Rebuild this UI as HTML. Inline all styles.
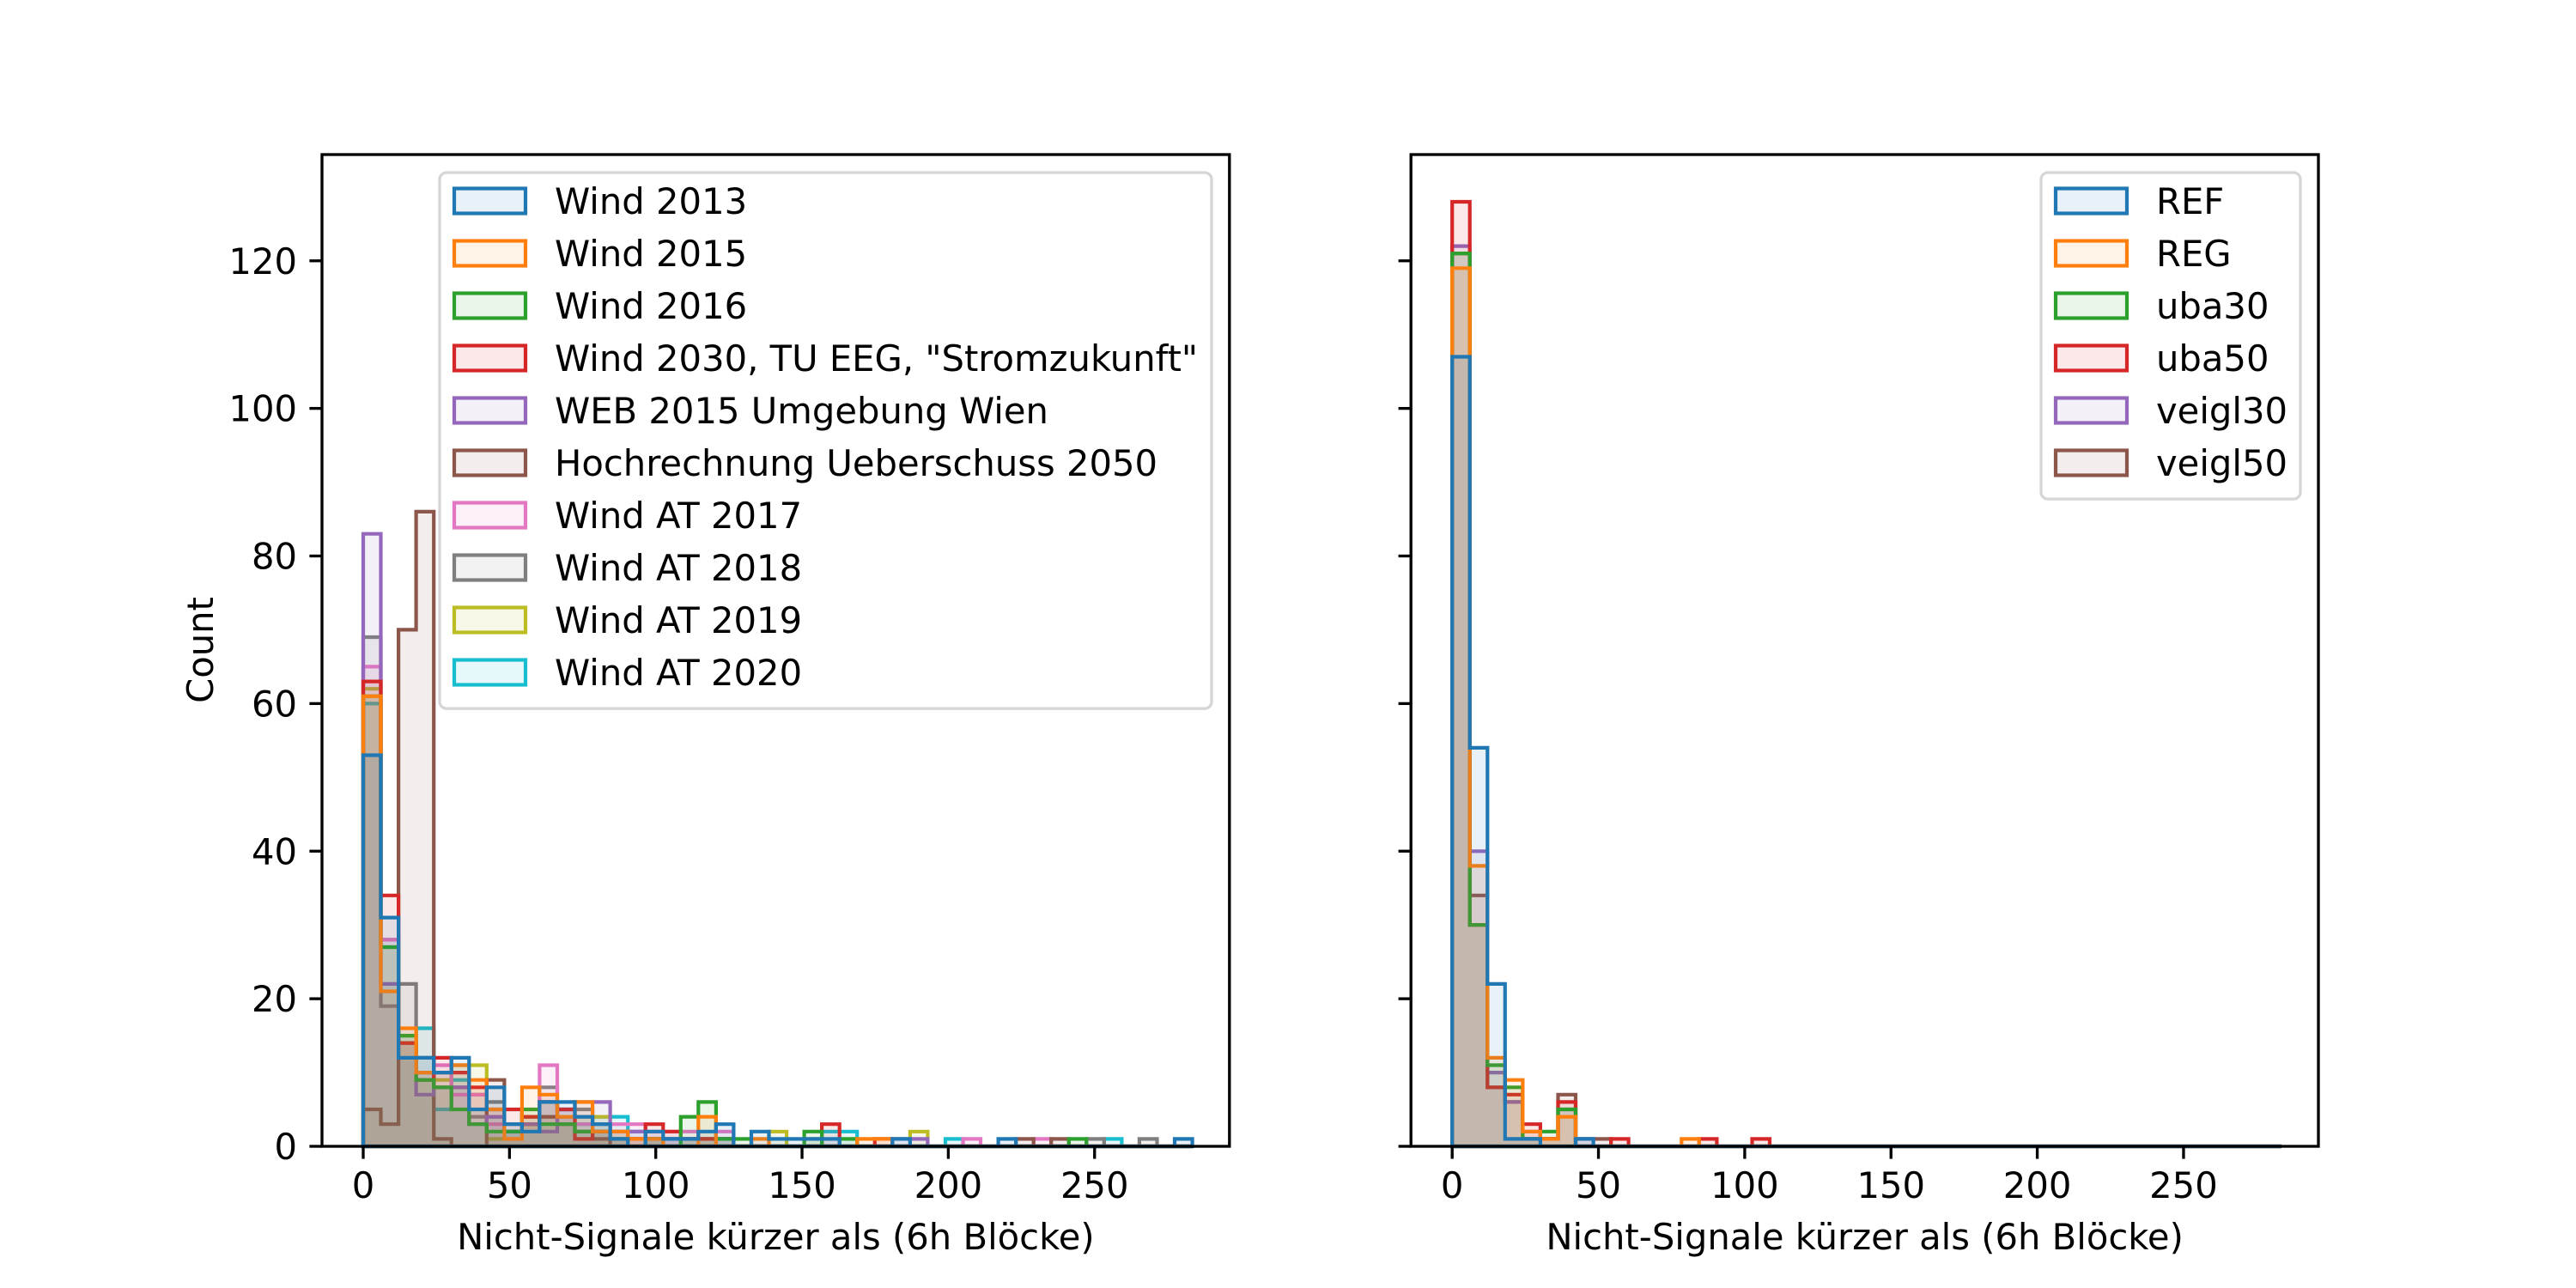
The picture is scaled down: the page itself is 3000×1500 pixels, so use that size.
<!DOCTYPE html>
<html><head><meta charset="utf-8"><style>
html,body{margin:0;padding:0;background:#fff;}
svg{display:block;font-family:"DejaVu Sans","Liberation Sans",sans-serif;}
</style></head><body>
<svg id="fig" width="3000" height="1500" viewBox="0 0 3000 1500" xmlns="http://www.w3.org/2000/svg"></svg>
<script>
// ---- data ----
const binWidth = 6.03;
const xTicks = [0, 50, 100, 150, 200, 250];
const yTicks = [0, 20, 40, 60, 80, 100, 120];
const leftLabels = ["Wind 2013","Wind 2015","Wind 2016","Wind 2030, TU EEG, \"Stromzukunft\"","WEB 2015 Umgebung Wien","Hochrechnung Ueberschuss 2050","Wind AT 2017","Wind AT 2018","Wind AT 2019","Wind AT 2020"];
const rightLabels = ["REF","REG","uba30","uba50","veigl30","veigl50"];
const colors = ["#1f77b4","#ff7f0e","#2ca02c","#d62728","#9467bd","#8c564b","#e377c2","#7f7f7f","#bcbd22","#17becf"];

const wind2013 = [53,31,12,12,10,12,5,8,3,2, 6,6,4,3,1,0,2,1,1,2, 3,0,2,1,1,1,1,0,0,0, 1,0,0,0,0,0,1,0,0,0, 0,0,0,0,0,0,1];
const wind2015 = [61,21,16,10,10,11,9,5,1,8, 7,4,6,2,2,1,1,0,0,4, 0,0,1,0,0,0,0,0,1,1, 0,0,0,0,0,0,0,0,0,0, 0,0,0,0,0,0,0];
const wind2016 = [61,27,15,9,8,5,3,2,2,5, 3,3,2,2,1,0,1,0,4,6, 1,1,0,0,0,2,0,1,0,0, 0,0,0,0,0,0,0,0,0,0, 1,0,0,0,0,0,0];
const wind2030 = [63,34,14,9,12,10,8,5,5,4, 6,5,1,2,1,1,3,2,1,1, 1,0,0,0,0,0,3,0,0,1, 0,0,0,0,0,0,0,0,0,0, 0,0,0,0,0,0,0];
const web2015 = [83,22,14,7,8,8,3,4,2,3, 2,5,6,6,2,2,1,1,0,0, 0,0,0,0,0,0,0,0,0,0, 1,1,0,0,0,0,0,0,0,0, 0,0,0,0,0,0,0];
const hoch2050 = [5,3,70,86,1,0,0,9,2,3, 4,3,2,1,0,0,0,0,0,0, 0,0,0,0,0,0,0,0,0,0, 0,0,0,0,0,0,0,1,0,1, 0,0,0,0,0,0,0];
const windAT2017 = [65,28,14,10,11,7,7,3,2,3, 11,4,3,2,3,3,2,2,2,1, 2,0,0,0,0,0,0,0,0,0, 0,0,0,0,1,0,0,0,1,0, 0,0,0,0,0,0,0];
const windAT2018 = [69,19,22,12,8,8,4,6,3,4, 8,5,5,3,2,1,1,1,1,1, 1,0,0,0,0,0,0,0,0,0, 0,0,0,0,0,0,0,0,0,0, 0,1,0,0,1,0,0];
const windAT2019 = [62,27,14,10,9,11,11,1,2,3, 4,4,4,4,2,1,1,0,1,1, 0,0,0,2,0,1,0,0,0,0, 0,2,0,0,0,0,0,0,0,0, 0,0,0,0,0,0,0];
const windAT2020 = [60,28,15,16,5,9,7,4,2,3, 6,4,3,4,4,2,1,1,1,1, 1,0,0,0,0,0,2,2,0,0, 0,0,0,1,0,0,0,0,0,0, 0,0,1,0,0,0,0];

const ref = [107,54,22,1,1,0,0,1,0,0, 0,0,0,0,0,0,0,0,0,0, 0,0,0,0,0,0,0,0,0,0, 0,0,0,0,0,0,0,0,0,0, 0,0,0,0,0,0,0];
const reg = [119,38,12,9,2,1,4,0,0,0, 0,0,0,1,0,0,0,0,0,0, 0,0,0,0,0,0,0,0,0,0, 0,0,0,0,0,0,0,0,0,0, 0,0,0,0,0,0,0];
const uba30 = [121,30,11,8,1,2,5,0,0,0, 0,0,0,0,0,0,0,0,0,0, 0,0,0,0,0,0,0,0,0,0, 0,0,0,0,0,0,0,0,0,0, 0,0,0,0,0,0,0];
const uba50 = [128,30,8,7,3,1,6,0,0,1, 0,0,0,0,1,0,0,1,0,0, 0,0,0,0,0,0,0,0,0,0, 0,0,0,0,0,0,0,0,0,0, 0,0,0,0,0,0,0];
const veigl30 = [122,40,10,6,2,1,5,1,0,0, 0,0,0,0,0,0,0,0,0,0, 0,0,0,0,0,0,0,0,0,0, 0,0,0,0,0,0,0,0,0,0, 0,0,0,0,0,0,0];
const veigl50 = [121,34,8,6,1,1,7,1,1,0, 0,0,0,0,0,0,0,0,0,0, 0,0,0,0,0,0,0,0,0,0, 0,0,0,0,0,0,0,0,0,0, 0,0,0,0,0,0,0];

const leftSeries = [wind2013,wind2015,wind2016,wind2030,web2015,hoch2050,windAT2017,windAT2018,windAT2019,windAT2020];
const rightSeries = [ref,reg,uba30,uba50,veigl30,veigl50];

// ---- drawing ----
const NS = "http://www.w3.org/2000/svg";
const svg = document.getElementById("fig");
function mk(tag, attrs, parent){
  const e = document.createElementNS(NS, tag);
  for (const k in attrs) e.setAttribute(k, attrs[k]);
  (parent||svg).appendChild(e);
  return e;
}
const yTop = 180, yBot = 1335, yMax = 134.4;
function yScale(v){ return yBot - v/yMax*(yBot-yTop); }
const FS = 41.7;

function drawPanel(cfg){
  const g = mk("g", {});
  
  
  const x = v => cfg.x0 + v*cfg.ppu;
  // matplotlib draws the first dataset last (on top)
  for (let si = cfg.series.length - 1; si >= 0; si--) {
    const arr = cfg.series[si];
    let pts = [[x(0), yScale(0)]];
    for (let i = 0; i < arr.length; i++) {
      pts.push([x(i*binWidth), yScale(arr[i])]);
      pts.push([x((i+1)*binWidth), yScale(arr[i])]);
    }
    pts.push([x(arr.length*binWidth), yScale(0)]);
    const p = mk("polygon", {points: pts.map(q=>q[0].toFixed(1)+","+q[1].toFixed(1)).join(" "),
      fill: colors[si], "fill-opacity": "0.1", stroke: colors[si], "stroke-width": "4.2", "stroke-linejoin":"miter"}, g);
    
    
  }
  const fr = mk("rect", {x: cfg.left, y: yTop, width: cfg.right-cfg.left, height: yBot-yTop, fill: "none", stroke: "#000", "stroke-width": "3.33"}, g);
  
  
  xTicks.forEach(t => {
    mk("line", {x1: x(t), x2: x(t), y1: yBot, y2: yBot+14.6, stroke: "#000", "stroke-width": "3.33"}, g);
    const tl = mk("text", {x: x(t), y: yBot+60, "font-size": FS, "text-anchor": "middle", fill: "#000"}, g);
    tl.textContent = t;
    
    
  });
  yTicks.forEach(t => {
    mk("line", {x1: cfg.left-14.6, x2: cfg.left, y1: yScale(t), y2: yScale(t), stroke: "#000", "stroke-width": "3.33"}, g);
    if (cfg.yLabels) {
      const tl = mk("text", {x: cfg.left-29, y: yScale(t)+15, "font-size": FS, "text-anchor": "end", fill: "#000"}, g);
      tl.textContent = t;
      
      
    }
  });
  const xl = mk("text", {x: (cfg.left+cfg.right)/2, y: 1455, "font-size": FS, "text-anchor": "middle", fill: "#000"}, g);
  xl.textContent = "Nicht-Signale kürzer als (6h Blöcke)";
  
  
  const L = cfg.legend;
  const lg = mk("g", {}, g);
  
  
  const lh = cfg.labels.length*61 - 20.8 + 35;
  mk("rect", {x: L.x, y: 201, width: L.w, height: lh, rx: 8, fill: "#fff", "fill-opacity": "0.8", stroke: "#d6d6d6", "stroke-width": "3.33"}, lg);
  cfg.labels.forEach((lab, i) => {
    const cy = 234 + i*61;
    const e = mk("g", {}, lg);
    
    
    mk("rect", {x: L.x+17, y: cy-14.5, width: 83, height: 29, fill: "#fff", stroke: "none"}, e);
    mk("rect", {x: L.x+17, y: cy-14.5, width: 83, height: 29, fill: colors[i], "fill-opacity": "0.1", stroke: colors[i], "stroke-width": "4.2"}, e);
    const t = mk("text", {x: L.x+134, y: cy+15, "font-size": FS, fill: "#000"}, e);
    t.textContent = lab;
  });
}

drawPanel({name: "left-histogram", left: 375, right: 1431.8, x0: 423, ppu: 3.407, series: leftSeries, labels: leftLabels, yLabels: true, legend: {x: 512, w: 899}});
drawPanel({name: "right-histogram", left: 1643.2, right: 2700, x0: 1691.2, ppu: 3.407, series: rightSeries, labels: rightLabels, yLabels: false, legend: {x: 2377, w: 302}});

const yl = mk("text", {x: 0, y: 0, "font-size": FS, "text-anchor": "middle", fill: "#000", transform: "translate(248,757) rotate(-90)"});
yl.textContent = "Count";


</script>
</body></html>
